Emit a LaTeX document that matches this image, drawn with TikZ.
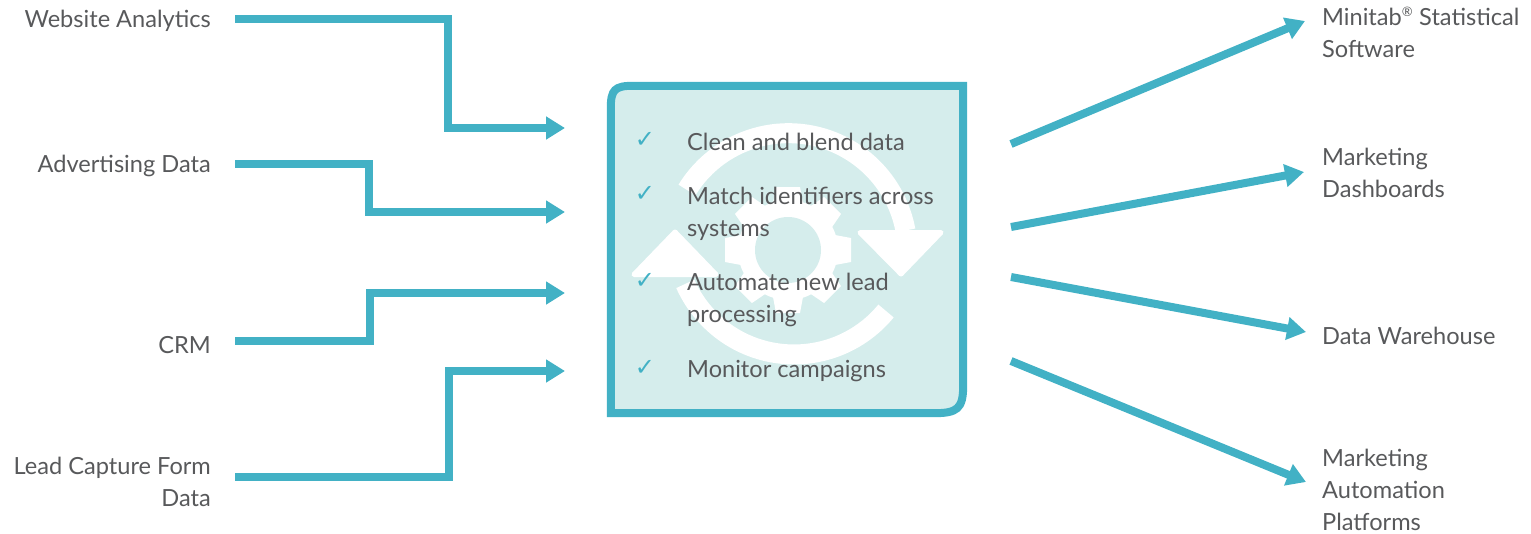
\documentclass[tikz,border=0pt]{standalone}
\usepackage{fontspec}
\setmainfont{Lato}
\newfontfamily\checkfont{DejaVu Sans}
\usetikzlibrary{arrows.meta}
\definecolor{teal}{HTML}{42B1C5}
\definecolor{pale}{HTML}{D5EDEC}
\definecolor{ink}{HTML}{58595B}
\tikzset{
  flow/.style={draw=teal,line width=8pt,-{Triangle[length=19pt,width=22pt]},miter limit=10},
  lab/.style={font=\fontsize{23.6}{32}\selectfont,text=ink,inner sep=0pt},
  srclab/.style={lab,anchor=east,align=right},
  dstlab/.style={lab,anchor=west,align=left},
  itemlab/.style={lab,anchor=west,align=left},
  tick/.style={font=\checkfont\fontsize{24}{24}\selectfont,text=teal,inner sep=0pt},
  loopband/.style={draw=white,line width=20pt},
  whitefill/.style={fill=white,draw=white,line width=5pt,line join=round}
}
\begin{document}
\begin{tikzpicture}[x=1pt,y=-1pt]
\useasboundingbox (0,0) rectangle (1531,533);
% box
\node[minimum width=352pt,minimum height=327pt,inner sep=0pt] (box) at (787,249.5) {};
\path[fill=pale,draw=teal,line width=8pt]
  ([yshift=-22pt]box.north west) .. controls ([yshift=-4pt]box.north west) and ([xshift=4pt]box.north west) .. ([xshift=22pt]box.north west)
  -- (box.north east) -- ([yshift=28pt]box.south east)
  .. controls ([yshift=4pt]box.south east) and ([xshift=-6pt]box.south east) .. ([xshift=-30pt]box.south east)
  -- (box.south west) -- cycle;
% icon: circular arrows
\draw[loopband] (687,190) arc[start angle=-148.5,end angle=-10.5,radius=119];
\draw[loopband] (886,311) arc[start angle=39.4,end angle=156,radius=119];
\path[whitefill] (860,232.5) -- (941,232.5) -- (901,274) -- cycle;
\path[whitefill] (634,274.5) -- (675,232) -- (716,274.5) -- cycle;
% icon: gear
\foreach \a in {0,45,...,315}{
  \fill[white,rotate around={\a:(788,250)}] (835,235) -- (851,238) -- (851,262) -- (835,265) -- cycle;
}
\fill[white] (788,250) circle[radius=50];
\fill[pale] (788,250) circle[radius=33];
% source labels
\node[srclab] (web) at (211,21) {Website Analytics};
\node[srclab] (ads) at (211,166) {Advertising Data};
\node[srclab] (crm) at (211,345) {CRM};
\node[srclab] (lead) at (211,482) {Lead Capture Form\\Data};
% destination labels
\node[dstlab] (mini) at (1322,32) {Minitab\textsuperscript{\fontsize{13}{13}\selectfont®} Statistical\\Software};
\node[dstlab] (dash) at (1322,173) {Marketing\\Dashboards};
\node[dstlab] (ware) at (1322,336) {Data Warehouse};
\node[dstlab,text depth=0pt] (auto) at (1322,490) {Marketing\\Automation\\Platforms};
% items
\node[tick] (t1) at (645,140) {✓};
\node[tick] (t2) at (645,194) {✓};
\node[tick] (t3) at (645,281) {✓};
\node[tick] (t4) at (645,368) {✓};
\node[itemlab] (i1) at (687,142) {Clean and blend data};
\node[itemlab] (i2) at (687,214) {Match identifiers across\\systems};
\node[itemlab] (i3) at (687,300) {Automate new lead\\processing};
\node[itemlab] (i4) at (687,371) {Monitor campaigns};
% connector ends
\coordinate (s1) at (235,19);
\coordinate (s2) at (235,164);
\coordinate (s3) at (235,341);
\coordinate (s4) at (235,477);
\coordinate (e1) at (565,128);
\coordinate (e2) at (565,212);
\coordinate (e3) at (565,293);
\coordinate (e4) at (565,371);
\coordinate (o1) at (1011,144);
\coordinate (o2) at (1011,227);
\coordinate (o3) at (1011,277);
\coordinate (o4) at (1011,361);
\coordinate (d1) at (1305,21);
\coordinate (d2) at (1304,172);
\coordinate (d3) at (1306,332);
\coordinate (d4) at (1306,482);
\draw[flow] (s1) -- (448,19) -- (448,128) -- (e1);
\draw[flow] (s2) -- (369,164) -- (369,212) -- (e2);
\draw[flow] (s3) -- (370,341) -- (370,293) -- (e3);
\draw[flow] (s4) -- (449,477) -- (449,371) -- (e4);
\draw[flow] (o1) -- (d1);
\draw[flow] (o2) -- (d2);
\draw[flow] (o3) -- (d3);
\draw[flow] (o4) -- (d4);
\end{tikzpicture}
\end{document}
